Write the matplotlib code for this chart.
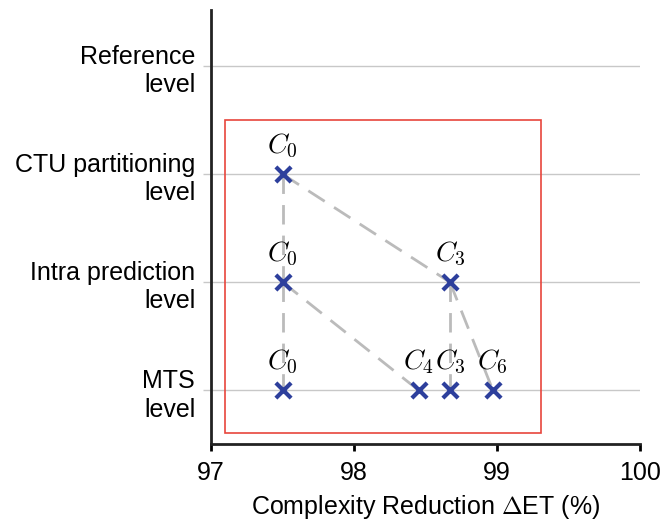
import matplotlib
matplotlib.use("Agg")
import matplotlib.pyplot as plt
from matplotlib.patches import Rectangle

plt.rcParams['font.family'] = ['Liberation Sans', 'DejaVu Sans']
plt.rcParams['mathtext.fontset'] = 'cm'

level_labels = ["MTS\nlevel", "Intra prediction\nlevel", "CTU partitioning\nlevel", "Reference\nlevel"]
level_pos = [0, 1, 2, 3]

point_names = ["C_0", "C_0", "C_3", "C_0", "C_4", "C_3", "C_6"]
point_x = [97.5, 97.5, 98.67, 97.5, 98.45, 98.67, 98.97]
point_level = [2, 1, 1, 0, 0, 0, 0]

# edges between points (indices)
edges = [(0, 2), (0, 1), (1, 3), (1, 4), (2, 5), (2, 6)]

rect_x = [97.1, 99.31]
rect_y = [-0.4, 2.5]

x_ticks = [97, 98, 99, 100]

fig = plt.figure(figsize=(6.62, 5.27), dpi=100)
ax = fig.add_axes([0.319, 0.157, 0.648, 0.824])

for y in level_pos:
    ax.axhline(y, color='#c8c8c8', lw=1.0, zorder=1)

for a, b in edges:
    ax.plot([point_x[a], point_x[b]], [point_level[a], point_level[b]],
            color='#bbbbbb', lw=2.0, dashes=(7, 4), zorder=2)

ax.scatter(point_x, point_level, marker='x', s=120, linewidths=3.0,
           color='#2d3f9c', zorder=4)

for n, x, y in zip(point_names, point_x, point_level):
    ax.text(x, y + 0.13, f"${n}$", ha='center', va='bottom', fontsize=20, zorder=5)

ax.add_patch(Rectangle((rect_x[0], rect_y[0]), rect_x[1] - rect_x[0], rect_y[1] - rect_y[0],
                       fill=False, edgecolor='#e8453c', lw=1.2, zorder=3))

ax.set_xlim(97, 100)
ax.set_ylim(-0.5, 3.52)
ax.set_xticks(x_ticks)
ax.set_xticklabels([str(t) for t in x_ticks], fontsize=18)
ax.set_yticks(level_pos)
ax.set_yticklabels(level_labels, fontsize=18, ha='right', linespacing=1.25)
ax.tick_params(axis='y', colors='#c8c8c8', length=6, width=1.0, labelcolor='black', pad=5.5)
ax.tick_params(axis='x', length=5, width=2, direction='out', pad=7)
ax.set_xlabel("Complexity Reduction $\\Delta$ET (%)", fontsize=18, labelpad=6)

for s in ['top', 'right']:
    ax.spines[s].set_visible(False)
for s in ['left', 'bottom']:
    ax.spines[s].set_linewidth(2)
    ax.spines[s].set_color('#222222')

fig.savefig("out.png", dpi=100)
